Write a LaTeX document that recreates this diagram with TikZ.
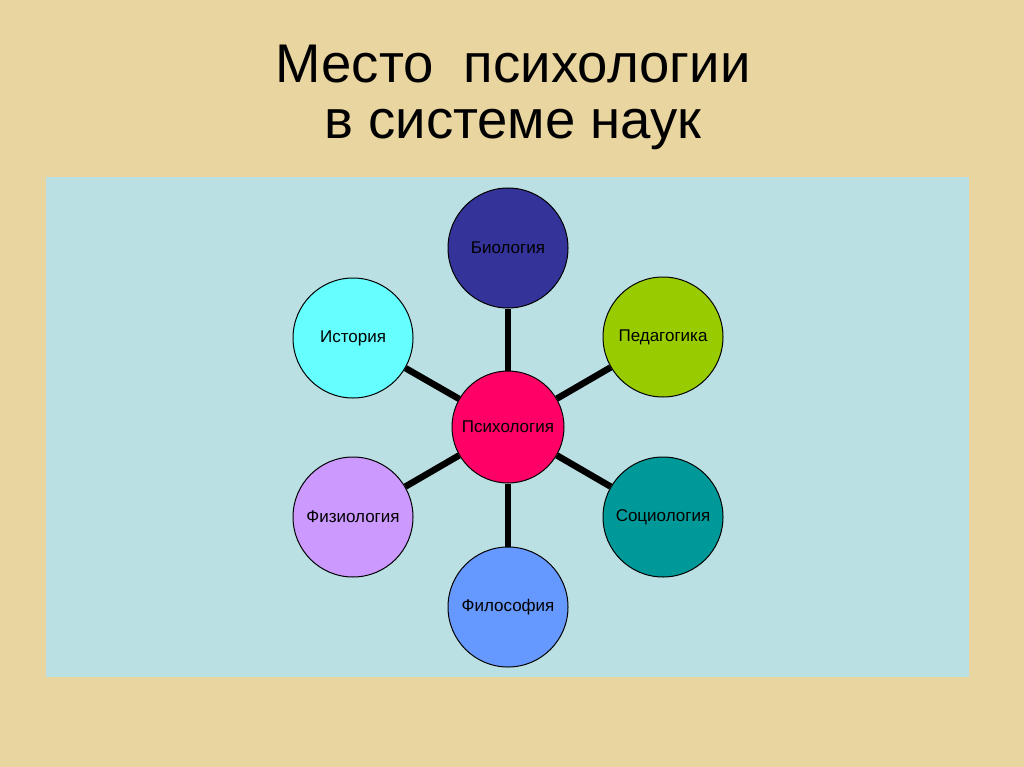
\documentclass[tikz,border=0pt]{standalone}
\usepackage{fontspec}
\setmainfont{Liberation Sans}
\usepackage{tikz}
\definecolor{paper}{HTML}{E8D59F}
\definecolor{panel}{HTML}{BBE0E3}
\definecolor{psycol}{HTML}{FF0066}
\definecolor{biocol}{HTML}{333399}
\definecolor{histcol}{HTML}{66FFFF}
\definecolor{pedcol}{HTML}{99CC00}
\definecolor{physcol}{HTML}{CC99FF}
\definecolor{sociocol}{HTML}{009999}
\definecolor{philcol}{HTML}{6699FF}
\newcommand{\sciencesize}{120pt}
\tikzstyle{science}=[draw, circle, line width=1pt, inner sep=0, minimum size=\sciencesize,
                     font=\fontsize{17}{20}\selectfont]
\tikzstyle{core}=[science, minimum size=112pt]
\tikzstyle{link}=[line width=6.5pt]
\tikzstyle{titletext}=[inner sep=0, anchor=base, font=\fontsize{54.5}{60}\selectfont]

\begin{document}
\begin{tikzpicture}[x=1pt, y=-1pt]
        % Background and panel
        \fill[paper] (0, 0) rectangle (1024, 767);
        \useasboundingbox (0, 0) rectangle (1024, 767);
        \fill[panel] (46, 177) rectangle (969, 677);
        \node[titletext] (T1) at (513, 83)  {Место\ \ психологии};
        \node[titletext] (T2) at (513, 139) {в системе наук};
        % Sciences
        \node[core, fill=psycol]       (Psy)   at (508, 427) {Психология};
        \node[science, fill=biocol]    (Bio)   at (508, 248) {Биология};
        \node[science, fill=histcol]   (Hist)  at (353, 338) {История};
        \node[science, fill=pedcol]    (Ped)   at (663, 337) {Педагогика};
        \node[science, fill=physcol]   (Phys)  at (353, 517) {Физиология};
        \node[science, fill=sociocol]  (Socio) at (663, 517) {Социология};
        \node[science, fill=philcol]   (Phil)  at (508, 607) {Философия};
        \foreach \n in {Bio, Hist, Ped, Phys, Socio, Phil}
            \draw[link] (Psy) -- (\n);
\end{tikzpicture}
\end{document}
